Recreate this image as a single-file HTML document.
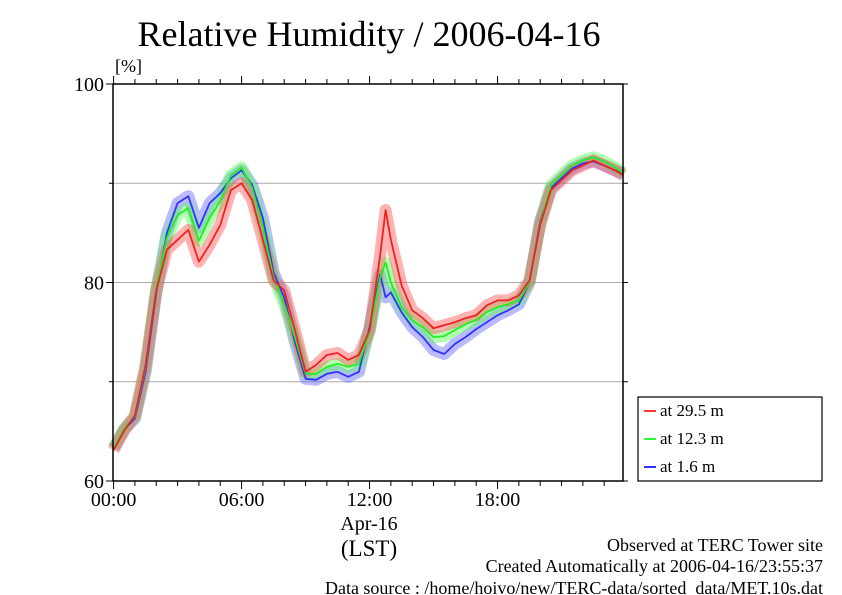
<!DOCTYPE html>
<html><head><meta charset="utf-8"><style>
body{margin:0;background:#fff}
svg{display:block;font-family:"Liberation Serif",serif}
</style></head><body>
<svg width="842" height="595" viewBox="0 0 842 595">
<text x="369" y="46" font-size="36" text-anchor="middle">Relative Humidity / 2006-04-16</text>
<text x="115" y="72" font-size="18">[%]</text>
<g id="grid"></g>
<g id="bands"></g>
<g id="lines"></g>
<rect x="113" y="84" width="510" height="397" fill="none" stroke="#000" stroke-width="1.5"/>
<g id="axes" font-size="20"></g>
<text x="369" y="530" font-size="20" text-anchor="middle">Apr-16</text>
<text x="369" y="556" font-size="23" text-anchor="middle">(LST)</text>
<text x="823" y="551" font-size="18" text-anchor="end">Observed at TERC Tower site</text>
<text x="823" y="572" font-size="18" text-anchor="end">Created Automatically at 2006-04-16/23:55:37</text>
<text x="823" y="594" font-size="18" text-anchor="end">Data source : /home/hoivo/new/TERC-data/sorted_data/MET.10s.dat</text>
<g>
<rect x="638" y="397" width="184" height="84" fill="#fff" stroke="#000" stroke-width="1.2"/>
<line x1="644" y1="411" x2="656" y2="411" stroke="#f33" stroke-width="2"/>
<text x="660" y="416" font-size="17">at 29.5 m</text>
<line x1="644" y1="439" x2="656" y2="439" stroke="#3f3" stroke-width="2"/>
<text x="660" y="444" font-size="17">at 12.3 m</text>
<line x1="644" y1="467" x2="656" y2="467" stroke="#33f" stroke-width="2"/>
<text x="660" y="472" font-size="17">at 1.6 m</text>
</g>
</svg>
<script>
const hours=[0,0.5,1,1.5,2,2.5,3,3.5,4,4.5,5,5.5,6,6.5,7,7.5,8,8.5,9,9.5,10,10.5,11,11.5,12,12.5,12.75,13,13.5,14,14.5,15,15.5,16,16.5,17,17.5,18,18.5,19,19.5,20,20.5,21,21.5,22,22.5,23,23.5,23.9];
const rh29=[63.1,65.1,66.6,71.7,79.2,83.3,84.3,85.3,82.1,83.8,85.8,89.3,90.0,88.3,84.3,80.2,79.2,75.2,71.0,71.7,72.7,72.9,72.2,72.7,75.2,82.8,87.3,84.3,79.7,77.2,76.4,75.4,75.7,76.0,76.4,76.7,77.7,78.2,78.2,78.7,80.2,85.8,89.3,90.3,91.3,91.8,92.3,91.8,91.3,90.8];
const rh12=[63.3,65.3,66.5,71.5,79.5,84.5,86.8,87.5,84.2,86.5,88.2,90.8,91.6,89.5,85.5,80.5,77.8,74.5,70.8,70.8,71.5,71.8,71.5,71.8,75.0,80.5,82.0,80.0,77.5,76.2,75.5,74.5,74.6,75.2,75.8,76.2,77.0,77.5,77.8,78.2,80.0,86.0,89.8,90.8,91.8,92.3,92.6,92.2,91.6,91.0];
const rh16=[63.3,65.2,66.3,71.0,79.0,85.0,88.0,88.7,85.5,88.0,89.0,90.5,91.3,89.8,86.5,81.0,78.5,74.0,70.3,70.2,70.8,71.0,70.5,71.0,75.5,80.8,78.5,79.0,77.0,75.5,74.5,73.2,72.8,73.8,74.5,75.3,76.0,76.7,77.2,77.8,80.0,86.2,89.5,90.5,91.5,92.0,92.2,91.8,91.3,91.0];
const yTicks=[60,80,100];
const xTicks=[0,6,12,18];
const xTickLabels=["00:00","06:00","12:00","18:00"];
const NS="http://www.w3.org/2000/svg";
const X=h=>113.6+h*21.33, Y=v=>481-(v-60)*9.925;
function mk(t,a,p){const e=document.createElementNS(NS,t);for(const k in a)e.setAttribute(k,a[k]);p.appendChild(e);return e;}
const grid=document.getElementById('grid'),axes=document.getElementById('axes');
[70,80,90].forEach(v=>{const l=mk('line',{x1:113,x2:623,y1:Y(v),y2:Y(v),stroke:'#aaa','stroke-width':1},grid);

});
for(let v=60;v<=100;v+=10){mk('line',{x1:v%20?109:106,x2:113,y1:Y(v),y2:Y(v),stroke:'#000'},axes);mk('line',{x1:623,x2:628,y1:Y(v),y2:Y(v),stroke:'#000'},axes);}
yTicks.forEach(v=>{const t=mk('text',{x:104,y:Y(v)+7,'text-anchor':'end'},axes);t.textContent=v;

});
for(let h=0;h<=24;h++){const x=X(h);if(x>624)break;const L=h%6?5:8;mk('line',{x1:x,x2:x,y1:84,y2:84-L,stroke:'#000'},axes);mk('line',{x1:x,x2:x,y1:481,y2:481+L,stroke:'#000'},axes);}
xTicks.forEach((h,i)=>{const t=mk('text',{x:X(h),y:506,'text-anchor':'middle'},axes);t.textContent=xTickLabels[i];

});
const series=[[rh16,'#33f','#66f','rh-1-6m'],[rh12,'#2e2','#5f5','rh-12-3m'],[rh29,'#e22','#f55','rh-29-5m']];
const bands=document.getElementById('bands'),lines=document.getElementById('lines');
series.forEach(([d,c,b,n])=>{const pts=hours.map((h,i)=>X(h).toFixed(1)+','+Y(d[i]).toFixed(1)).join(' ');
const bp=mk('polyline',{points:pts,fill:'none',stroke:b,'stroke-width':12,'stroke-opacity':0.45,'stroke-linejoin':'round'},bands);


});
series.forEach(([d,c,b,n])=>{const pts=hours.map((h,i)=>X(h).toFixed(1)+','+Y(d[i]).toFixed(1)).join(' ');
const lp=mk('polyline',{points:pts,fill:'none',stroke:c,'stroke-width':1.8,'stroke-linejoin':'round'},lines);


});
</script>
</body></html>
